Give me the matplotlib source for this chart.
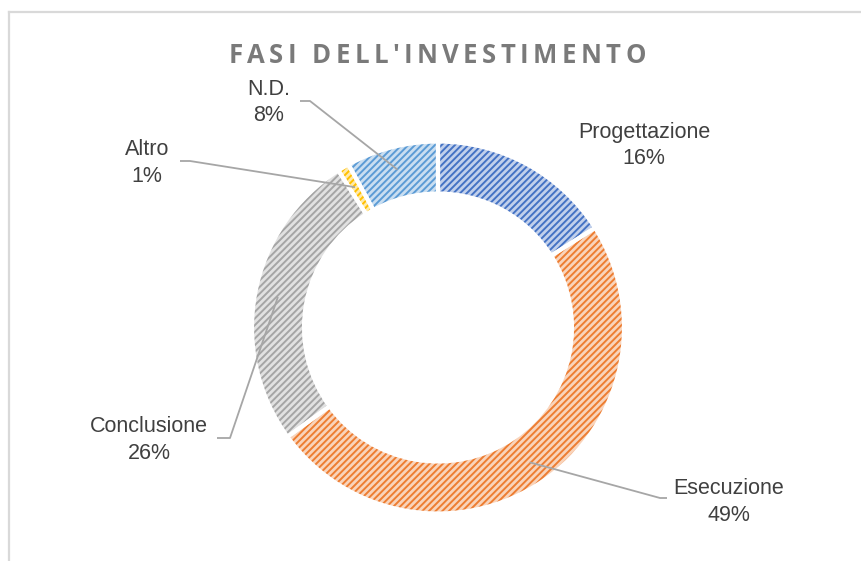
import matplotlib
matplotlib.use('Agg')
import matplotlib.pyplot as plt
from matplotlib.lines import Line2D
from matplotlib.font_manager import FontProperties
from matplotlib.textpath import TextToPath
import matplotlib.colors as mcolors
import numpy as np

# data
categories = ['Progettazione', 'Esecuzione', 'Conclusione', 'Altro', 'N.D.']
values = [16, 49, 26, 1, 8]
pct_labels = ['16%', '49%', '26%', '1%', '8%']
colors = ['#4472C4', '#ED7D31', '#A5A5A5', '#FFC000', '#5B9BD5']
title = "FASI DELL'INVESTIMENTO"

W, H = 861, 561
plt.rcParams['hatch.linewidth'] = 1.4

def py(y):
	# pixel row -> data y
	return H - y

def tint(c, f):
	r = np.array(mcolors.to_rgb(c))
	return tuple(1 - (1 - r) * f)

fig = plt.figure(figsize=(W / 100, H / 100), dpi=100)
ax = fig.add_axes([0, 0, 1, 1])
ax.set_xlim(0, W)
ax.set_ylim(0, H)
ax.set_aspect('equal')
ax.axis('off')

# chart area border (only top and left visible)
fig.add_artist(Line2D([9 / W, 9 / W], [0, 1 - 12 / H], color='#d9d9d9', lw=1.6, transform=fig.transFigure))
fig.add_artist(Line2D([9 / W, 1], [1 - 12 / H, 1 - 12 / H], color='#d9d9d9', lw=1.6, transform=fig.transFigure))

cx, cy = 438, 327.5
R = 186
ring = 52

fills = [tint(c, 0.33) for c in colors]
wedges, _ = ax.pie(values, colors=fills, startangle=90, counterclock=False,
                   radius=R, center=(cx, py(cy)),
                   wedgeprops=dict(width=ring, linewidth=0, edgecolor='none'))
for w, c in zip(wedges, colors):
	w.set_edgecolor(c)
	w.set_linewidth(0)
	w.set_hatch('/////')

# white separators
ax.pie(values, colors=['none'] * len(values), startangle=90, counterclock=False,
       radius=R, center=(cx, py(cy)),
       wedgeprops=dict(width=ring, linewidth=3, edgecolor='white', fill=False))
ax.set_xlim(0, W)
ax.set_ylim(0, H)

# labels (centre in pixels) and leader elbows
label_pos = [(644, 145.5), (729, 502), (149, 440), (147, 163), (269, 102.5)]
elbows = [None, [(667, 498), (660, 498)], [(217, 438), (230, 438)],
          [(180, 161), (190, 161)], [(300, 101), (310, 101)]]

r_mid = R - ring / 2 + 3
for w, cat, pl, (lx, ly), el in zip(wedges, categories, pct_labels, label_pos, elbows):
	ax.text(lx, py(ly), cat + '\n' + pl, ha='center', va='center', fontsize=15.5,
	        family='Liberation Sans', color='#404040', linespacing=1.33)
	if el is not None:
		mid = np.deg2rad((w.theta1 + w.theta2) / 2)
		ax_x = cx + r_mid * np.cos(mid)
		ax_y = py(cy) + r_mid * np.sin(mid)
		xs = [el[0][0], el[1][0], ax_x]
		ys = [py(el[0][1]), py(el[1][1]), ax_y]
		ax.plot(xs, ys, color='#a6a6a6', lw=1.3, solid_capstyle='butt')

# title with letter spacing
prop = FontProperties(family='Open Sans', weight='bold', size=18.5)
ttp = TextToPath()
widths = [ttp.get_text_width_height_descent(ch, prop, ismath=False)[0] * 100 / 72 for ch in title]
span = 417
gap = (span - sum(widths)) / (len(title) - 1)
x = 437 - span / 2
for ch, cw in zip(title, widths):
	ax.text(x, py(63), ch, fontproperties=prop, color='#7a7a7a', ha='left', va='baseline')
	x += cw + gap

fig.savefig('out.png', dpi=100)
